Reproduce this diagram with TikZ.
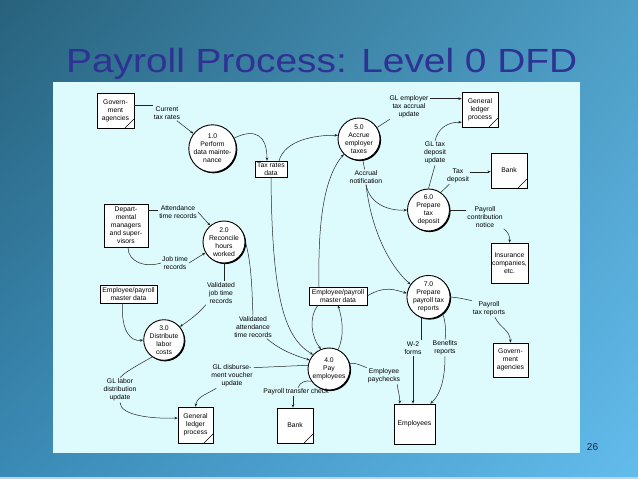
\documentclass[tikz,border=0pt]{standalone}
\usepackage{fontspec}
\setmainfont{Liberation Sans}
\usetikzlibrary{shadows,shadings,arrows.meta}
\definecolor{panel}{RGB}{221,250,253}
\definecolor{titleblue}{RGB}{46,50,146}
\definecolor{lin}{RGB}{35,35,35}
\definecolor{numcol}{RGB}{20,40,70}
\definecolor{bgA}{RGB}{40,98,124}
\definecolor{bgB}{RGB}{78,158,198}
\definecolor{bgC}{RGB}{58,138,182}
\definecolor{bgD}{RGB}{98,188,236}
\tikzset{
  dfd/.style={font=\fontsize{6.8}{8}\selectfont, align=center, text=black},
  ent/.style={dfd, draw=black, fill=white, line width=0.5pt, inner sep=1pt,
    drop shadow={shadow xshift=1.3pt, shadow yshift=-1.3pt, fill=black, opacity=1}},
  dup/.style={path picture={\draw[line width=0.6pt] ([xshift=-9pt]path picture bounding box.south east) -- ([yshift=9pt]path picture bounding box.south east);}},
  proc/.style={dfd, circle, draw=black, fill=white, line width=0.9pt, minimum size=42pt, inner sep=0pt,
    drop shadow={shadow xshift=1.1pt, shadow yshift=-1.1pt, fill=black, opacity=1}},
  store/.style={dfd, draw=black, fill=white, line width=0.5pt, inner sep=1.5pt},
  lab/.style={dfd, inner sep=1pt},
  flow/.style={draw=lin, line width=0.5pt},
  arr/.style={flow, -{Stealth[length=3.4pt,width=2.6pt]}}
}
\begin{document}
\begin{tikzpicture}[x=1pt,y=-1pt]
\useasboundingbox (0,0) rectangle (638,479);
\shade[upper left=bgA, upper right=bgB, lower left=bgC, lower right=bgD] (0,0) rectangle (638,479);
\fill[fill={rgb,255:red,175;green,215;blue,240}] (0,476.5) rectangle (638,479);
\fill[panel] (53,82) rectangle (580,453);
\node[anchor=base west, font=\fontsize{33.5}{33.5}\selectfont, text=titleblue, inner sep=0pt] (title) at (66,72) {\scalebox{1.16}[1]{Payroll Process: Level 0 DFD}};
\node[font=\fontsize{10}{10}\selectfont, text=numcol, inner sep=0pt] (pnum) at (592.5,447) {26};

% external entities
\node[ent,dup,minimum width=37pt,minimum height=35pt] (ga1) at (115.5,110.5) {Govern-\\ment\\agencies};
\node[ent,dup,minimum width=36pt,minimum height=35pt] (gl1) at (480,109.5) {General\\ledger\\process};
\node[ent,dup,minimum width=36pt,minimum height=35pt] (bank1) at (509,170.5) {Bank};
\node[ent,minimum width=44pt,minimum height=43pt] (dept) at (126,225.5) {Depart-\\mental\\managers\\and super-\\visors};
\node[ent,minimum width=37pt,minimum height=40pt] (ins) at (509.5,263) {Insurance\\companies,\\etc.};
\node[ent,minimum width=35pt,minimum height=34pt] (ga2) at (510.5,360) {Govern-\\ment\\agencies};
\node[ent,dup,minimum width=35pt,minimum height=36pt] (gl2) at (195.5,425) {General\\ledger\\process};
\node[ent,dup,minimum width=36pt,minimum height=35pt] (bank2) at (295,425.5) {Bank};
\node[ent,minimum width=41pt,minimum height=40pt] (emp) at (414.5,424) {Employees};

% data stores
\node[store,minimum width=32pt,minimum height=16pt] (trd) at (271,169) {Tax rates\\data};
\node[store,minimum width=57pt,minimum height=18pt] (epm1) at (128.5,294) {Employee/payroll\\master data};
\node[store,minimum width=58pt,minimum height=18pt] (epm2) at (338,296) {Employee/payroll\\master data};

% processes
\node[proc,minimum size=46pt] (p1) at (212.5,148.5) {1.0\\Perform\\data mainte-\\nance};
\node[proc] (p5) at (359,139) {5.0\\Accrue\\employer\\taxes};
\node[proc] (p2) at (224,242) {2.0\\Reconcile\\hours\\worked};
\node[proc] (p6) at (428.5,210) {6.0\\Prepare\\tax\\deposit};
\node[proc] (p7) at (428.5,297) {7.0\\Prepare\\payroll tax\\reports};
\node[proc,minimum size=40pt] (p3) at (164,340) {3.0\\Distribute\\labor\\costs};
\node[proc] (p4) at (329,369) {4.0\\Pay\\employees};

% flow labels
\node[lab] (lctr) at (167,113) {Current\\tax rates};
\node[lab] (lgleta) at (409,107) {GL employer\\tax accrual\\update};
\node[lab] (lgltd) at (435,153) {GL tax\\deposit\\update};
\node[lab] (ltd) at (458,176) {Tax\\deposit};
\node[lab] (lan) at (366,177) {Accrual\\notification};
\node[lab] (latr) at (178,212) {Attendance\\time records};
\node[lab] (ljtr) at (175,263) {Job time\\records};
\node[lab] (lvjtr) at (221,293) {Validated\\job time\\records};
\node[lab] (lvatr) at (253,327) {Validated\\attendance\\time records};
\node[lab] (lpcn) at (485,217) {Payroll\\contribution\\notice};
\node[lab] (lptr) at (489,309) {Payroll\\tax reports};
\node[lab] (lw2) at (413,348) {W-2\\forms};
\node[lab] (lbr) at (445,348) {Benefits\\reports};
\node[lab] (lglld) at (120,390) {GL labor\\distribution\\update};
\node[lab] (lgldv) at (232,376) {GL disburse-\\ment voucher\\update};
\node[lab] (lep) at (384,376) {Employee\\paychecks};
\node[lab] (lptc) at (296,392) {Payroll transfer check};

% flows
\draw[flow] ([yshift=-12pt]ga1.north east) -- ([yshift=-12pt]ga1.north east -| lctr.west);
\draw[arr] (lctr) -- (p1);
\draw[arr] (p1) .. controls (255,128) and (267,135) .. ([xshift=-4pt]trd.north);
\draw[arr] ([xshift=8pt]trd.north) .. controls (285,140) and (315,135) .. (p5.170);
\draw[arr] (trd.south) .. controls (272,300) and (285,338) .. (p4.138);

\draw[flow] (p5) -- (lgleta);
\draw[arr] ([yshift=-4pt]lgleta.north east) -- ([yshift=-4pt]lgleta.north east -| gl1.west);
\draw[flow] (p5) -- (lan);
\draw[arr] (lan.south) .. controls (370,205) and (390,211) .. (p6.west);
\draw[arr] (lan.south) .. controls (372,235) and (392,268) .. (p7.145);
\draw[arr] ([xshift=-19pt]epm2.north) .. controls (318,230) and (322,180) .. (p5.225);

\draw[flow] (p6.north) -- (lgltd.south);
\draw[arr] (lgltd.north) .. controls (438,128) and (448,122) .. ([yshift=5pt]gl1.south west);
\draw[flow] (p6.55) -- (ltd);
\draw[arr] ([yshift=-4pt]ltd.north east) -- ([yshift=-4pt]ltd.north east -| bank1.west);
\draw[flow] (p6.east) -- (p6.east -| lpcn.west);
\draw[arr] (lpcn.south east) .. controls (508,232) and (510,236) .. (ins.north);

\draw[arr] (epm2.east) .. controls (385,285) and (395,290) .. (p7.170);
\draw[flow] (p7.east) .. controls (462,298) and (468,300) .. (lptr.north west);
\draw[arr] ([xshift=6pt]lptr.south) .. controls (500,328) and (510,330) .. (ga2.north);
\draw[flow] (p7.250) -- (lw2.north -| p7.250);
\draw[arr] (lw2.south) -- (lw2.south |- emp.north);
\draw[flow] (p7.-50) .. controls (446,322) and (446,335) .. (lbr.north);
\draw[arr] (lbr.south) .. controls (445,380) and (440,395) .. ([xshift=-5pt]emp.north east);

\draw[flow] ([yshift=-6pt]dept.north east) -- ([yshift=-6pt]dept.north east -| latr.west);
\draw[arr] (latr.east) -- (p2.130);
\draw[flow] ([xshift=2pt]dept.south) .. controls (128,262) and (145,268) .. (ljtr.west);
\draw[arr] (ljtr.east) -- (p2.210);
\draw[flow] (p2.south) -- (lvjtr.north -| p2.south);
\draw[arr] (lvjtr.south west) .. controls (200,312) and (190,320) .. (p3.40);
\draw[flow] (p2.east) .. controls (252,265) and (252,295) .. (lvatr.north);
\draw[arr] ([xshift=-6pt]lvatr.south east) .. controls (280,350) and (296,356) .. (p4.155);

\draw[arr] ([xshift=-6pt]epm1.south) .. controls (121,330) and (130,342) .. (p3.west);
\draw[flow] (p3.235) .. controls (138,365) and (125,372) .. (lglld.north);
\draw[arr] (lglld.south) .. controls (120,415) and (150,419) .. ([yshift=7pt]gl2.west);

\draw[arr] ([xshift=-20pt]epm2.south) .. controls (308,318) and (312,338) .. (p4.112);
\draw[arr] (p4.65) .. controls (345,335) and (342,318) .. (epm2.south);

\draw[flow] (p4.170) -- ([yshift=-4pt]lgldv.north east);
\draw[arr] ([xshift=6pt]lgldv.south west) .. controls (205,395) and (197,397) .. (gl2.north);
\draw[flow] (p4.215) .. controls (306,380) and (300,382) .. ([xshift=2pt]lptc.north);
\draw[arr] ([xshift=-3pt]lptc.south) -- ([xshift=-3pt]lptc.south |- bank2.north);
\draw[flow] (p4.15) .. controls (355,362) and (362,366) .. (lep.north west);
\draw[arr] ([xshift=-4pt]lep.south east) .. controls (398,392) and (400,396) .. ([xshift=6pt]emp.north west);
\end{tikzpicture}
\end{document}
